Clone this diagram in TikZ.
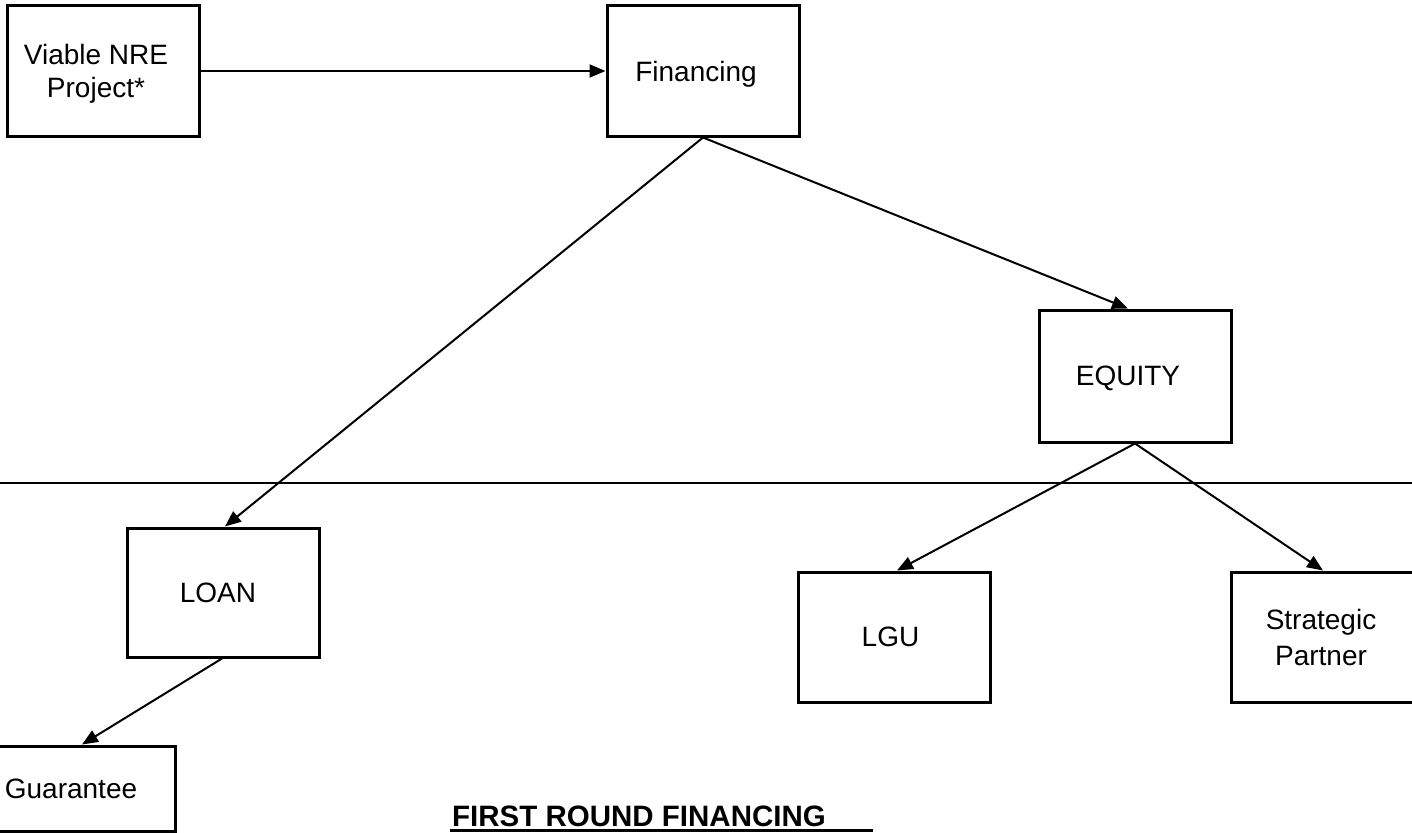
\documentclass[tikz,border=0pt]{standalone}
\usepackage{fontspec}
\setmainfont{Liberation Sans}
\usetikzlibrary{arrows.meta}
\begin{document}
\begin{tikzpicture}[x=1pt,y=-1pt,
  box/.style={draw, line width=3pt, minimum width=192pt, minimum height=130pt, inner sep=0pt},
  lbl/.style={font=\fontsize{28}{32.5}\selectfont, align=center, inner sep=0pt, text depth=0pt},
  link/.style={line width=2pt, -{Triangle[length=16pt,width=13pt]}}]
\useasboundingbox (0,0) rectangle (1412,832);
\clip (0,0) rectangle (1412,832);

% boxes
\node[box, label={[lbl,xshift=-7pt]center:{Viable NRE\\Project*}}] (nre) at (103,71) {};
\node[box, label={[lbl,xshift=-7pt]center:Financing}] (fin) at (703,71) {};
\node[box, minimum height=132pt, label={[lbl,xshift=-7pt]center:EQUITY}] (eq) at (1135,376) {};
\node[box, minimum height=129pt, label={[lbl,xshift=-5pt]center:LOAN}] (loan) at (223,592.5) {};
\node[box, label={[lbl,xshift=-4pt]center:LGU}] (lgu) at (894.5,637) {};
\node[box, label={[lbl,font=\fontsize{28}{36}\selectfont,xshift=-6pt]center:{Strategic\\Partner}}] (sp) at (1327,637) {};
\node[box, minimum height=85pt, label={[lbl,xshift=-8pt]center:Guarantee}] (guar) at (79,788.5) {};

% divider
\draw[line width=2pt] (0,483) -- (1412,483);

% connectors
\draw[link] (nre.east) -- (fin.west);
\draw[link] (fin.south) -- ([xshift=2pt]loan.north);
\draw[link] (fin.south) -- ([xshift=-7pt]eq.north);
\draw[link] (eq.south) -- ([xshift=2.5pt]lgu.north);
\draw[link] (eq.south) -- ([xshift=-4pt]sp.north);
\draw[link] ([xshift=-1pt]loan.south) -- ([xshift=3pt]guar.north);

% title
\node[font=\fontsize{29.5}{34}\selectfont\bfseries, anchor=base west, inner sep=0pt] (title) at (452,826) {FIRST ROUND FINANCING};
\draw[line width=3.5pt] ([xshift=-2pt,yshift=-4.5pt]title.base west) -- ++(423,0);
\end{tikzpicture}
\end{document}
